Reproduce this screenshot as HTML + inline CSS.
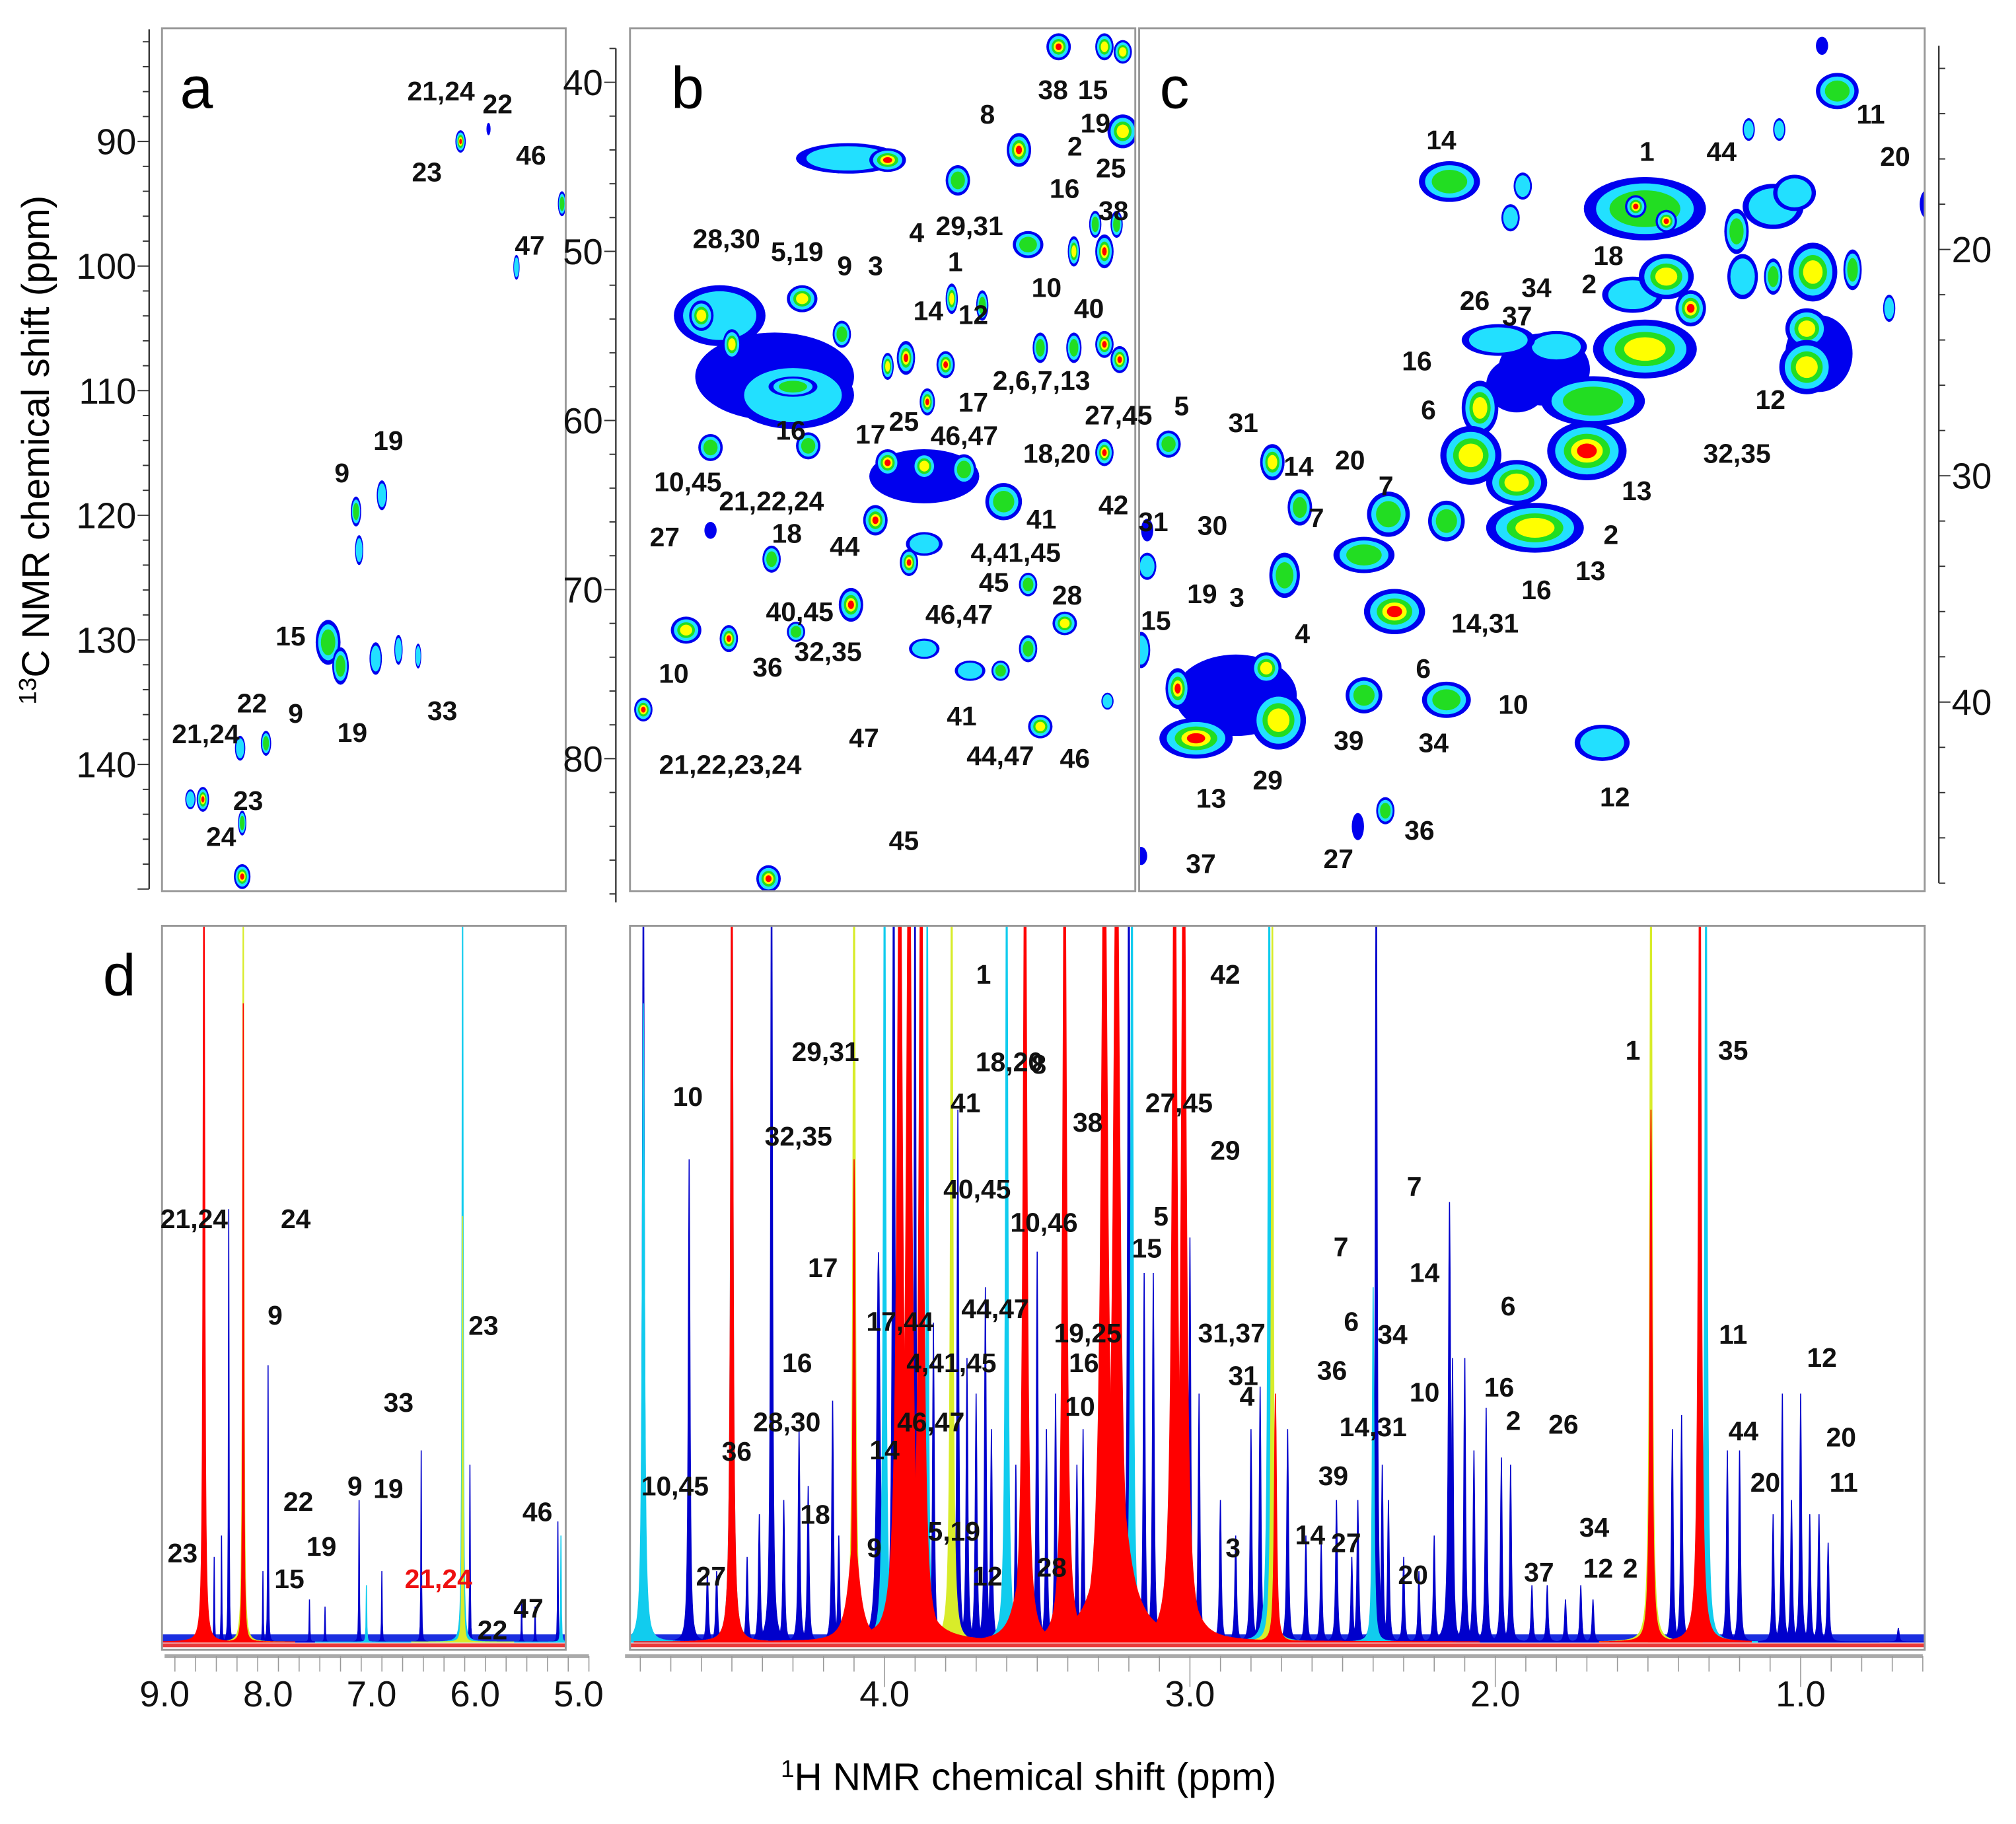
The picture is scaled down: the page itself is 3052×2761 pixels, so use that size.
<!DOCTYPE html>
<html><head><meta charset="utf-8"><title>NMR spectra</title>
<style>
html,body{margin:0;padding:0;background:#fff;}
svg{display:block;}
text{font-family:"Liberation Sans",sans-serif;}
.lb{font-family:"Liberation Sans Narrow","Liberation Sans",sans-serif;font-weight:bold;font-size:21px;fill:#111;}
.tk{font-size:28px;fill:#111;}
</style></head>
<body>
<svg id="fig" xmlns="http://www.w3.org/2000/svg" width="3052" height="2761" viewBox="0 0 1568 1418.5" preserveAspectRatio="none">
<defs>
<clipPath id="cpA"><rect x="126" y="22" width="314" height="671"/></clipPath>
<clipPath id="cpB"><rect x="490" y="22" width="393" height="671"/></clipPath>
<clipPath id="cpC"><rect x="886" y="22" width="611" height="671"/></clipPath>
<clipPath id="cpDL"><rect x="126" y="720" width="314" height="563"/></clipPath>
<clipPath id="cpDR"><rect x="490" y="720" width="1007" height="563"/></clipPath>
</defs>
<g id="layer"></g>
<text x="38" y="350" transform="rotate(-90 38 350)" text-anchor="middle" font-size="30"><tspan font-size="19" dy="-10">13</tspan><tspan dy="10">C NMR chemical shift (ppm)</tspan></text>
<text x="800" y="1392" text-anchor="middle" font-size="30"><tspan font-size="19" dy="-10">1</tspan><tspan dy="10">H NMR chemical shift (ppm)</tspan></text>
<text x="140" y="84" font-size="46">a</text>
<text x="522" y="84" font-size="46">b</text>
<text x="902" y="84" font-size="46">c</text>
<text x="80" y="774" font-size="46">d</text>
</svg>
<script>
// ---------- DATA ----------
// 2D spots: [1H ppm, 13C ppm, 1H half-width ppm, 13C half-width ppm, intensity level 1-5]
const spotsA = [
[6.14,90,.05,.9,5],[5.87,89,.02,.5,1],[5.16,95,.04,1.0,3],[5.60,100.1,.03,1.0,2],
[7.15,119.7,.05,1.2,3],[6.90,118.4,.05,1.2,2],[7.12,122.8,.04,1.2,2],
[7.42,130.2,.12,1.8,3],[7.30,132.1,.08,1.5,3],[6.96,131.5,.06,1.3,2],[6.74,130.8,.04,1.2,2],[6.55,131.3,.03,1.0,2],
[8.27,138.7,.05,1.0,2],[8.02,138.3,.05,1.0,3],[8.63,142.8,.06,1.0,5],[8.75,142.8,.05,.8,2],
[8.25,144.7,.04,1.0,3],[8.25,149,.08,1.0,5]
];
const spotsB = [
[4.36,57.4,.26,2.6,1],[4.54,53.8,.15,1.8,2],[4.30,58.5,.2,2.0,2],[3.87,63.3,.18,1.6,1],[4.12,44.5,.17,.9,2],
[3.43,37.9,.04,.8,5],[3.28,37.9,.03,.8,4],[3.22,38.2,.03,.7,4],[3.56,44.0,.04,1.0,5],[3.22,42.9,.05,1.0,4],
[3.99,44.6,.06,.7,5],[3.76,45.8,.04,.9,3],[3.31,48.4,.02,.8,3],[3.24,48.4,.02,.8,3],[3.28,50.0,.03,1.0,5],
[3.38,50.0,.02,.9,4],[3.53,49.6,.05,.8,3],[3.78,52.8,.02,.9,4],[3.68,53.2,.02,.9,3],[3.49,55.7,.025,.9,3],
[3.38,55.7,.025,.9,3],[3.28,55.5,.03,.8,5],[3.23,56.4,.03,.8,5],[3.93,56.3,.03,1.0,5],[3.80,56.7,.03,.8,5],
[3.99,56.8,.02,.8,4],[3.86,58.9,.025,.8,5],[4.60,53.8,.04,.9,4],[4.50,55.5,.03,.9,4],[4.27,52.8,.05,.8,4],
[4.30,58,.08,.6,3],[4.14,54.9,.03,.8,3],[3.28,61.9,.03,.8,5],[4.25,61.5,.04,.8,3],[4.57,61.6,.04,.8,3],
[3.99,62.5,.04,.8,5],[3.87,62.7,.04,.8,4],[3.74,62.9,.04,.9,3],[4.03,65.9,.04,.9,5],[3.61,64.8,.06,1.1,3],
[3.87,67.3,.06,.7,2],[3.92,68.4,.03,.8,5],[4.37,68.2,.03,.8,3],[4.57,66.5,.02,.5,1],[4.11,70.9,.04,1.0,5],
[4.29,72.5,.03,.6,3],[4.65,72.4,.05,.8,4],[4.51,72.9,.03,.8,5],[4.79,77.1,.03,.7,5],[4.38,87.1,.04,.8,5],
[3.53,69.7,.03,.7,3],[3.41,72.0,.04,.7,4],[3.53,73.5,.03,.8,3],[3.87,73.5,.05,.6,2],[3.72,74.8,.05,.6,2],
[3.62,74.8,.03,.6,3],[3.49,78.1,.04,.7,4],[3.27,76.6,.02,.5,2]
];
const spotsC = [
[1.51,18.2,.2,1.4,3],[1.54,18.1,.035,.5,5],[1.44,18.75,.035,.5,5],[1.21,19.2,.04,1.0,3],[1.09,18.1,.1,1.0,2],
[2.15,17.0,.1,.9,3],[1.91,17.2,.03,.6,2],[1.95,18.6,.03,.6,2],[1.55,22.0,.1,.8,2],[1.44,21.2,.09,1.0,4],
[1.36,22.6,.05,.8,5],[0.96,21.0,.08,1.3,4],[0.83,20.9,.03,.9,3],[1.09,21.2,.03,.8,3],[1.19,21.2,.05,1.0,2],
[1.02,17.5,.07,.8,2],[0.88,13.0,.07,.8,3],[0.93,11.0,.02,.4,1],[1.17,14.7,.02,.5,2],[1.07,14.7,.02,.5,2],
[0.59,18,.02,.6,1],[0.94,24.6,.11,1.7,1],[0.98,23.5,.07,.9,4],[0.98,25.2,.09,1.2,4],[0.71,22.6,.02,.6,2],
[1.84,25.3,.15,1.6,1],[1.93,26,.1,1.2,1],[1.51,24.4,.17,1.3,4],[1.68,26.7,.17,1.1,3],[1.80,24.3,.1,.7,2],
[1.99,24.0,.12,.7,2],[1.70,28.9,.13,1.3,5],[2.05,27.0,.06,1.2,4],[2.08,29.1,.1,1.3,4],[1.93,30.3,.1,1.0,4],
[1.87,32.3,.16,1.1,4],[2.16,32.0,.06,.9,3],[2.35,31.7,.07,1.0,3],[2.43,33.5,.1,.8,3],[2.33,36.0,.1,1.0,5],
[2.16,39.9,.08,.8,3],[2.43,39.7,.06,.8,3],[1.65,41.8,.09,.8,2],[2.36,44.8,.03,.6,3],[2.45,45.5,.02,.6,1],
[3.07,28.6,.04,.6,3],[2.73,29.4,.04,.8,4],[2.64,31.4,.04,.8,3],[2.69,34.4,.05,1.0,3],[3.14,32.4,.02,.5,1],
[3.14,34.0,.03,.6,2],[2.85,39.7,.2,1.8,1],[3.04,39.4,.04,.9,5],[2.98,41.6,.12,.9,5],[2.75,38.5,.05,.7,4],
[2.71,40.8,.09,1.3,4],[3.16,46.8,.02,.4,1],[3.16,37.7,.03,.8,2]
];
// 1D peaks: [1H ppm, relative height, colour index (0 blue,1 cyan,2 yellow,3 red), half-width ppm]
const peaksLeft = [
[8.62,1.2,3,.008],[8.62,1.2,0,.003],[8.24,1.2,2,.006],[8.24,.9,3,.005],[8.38,.61,0,.003],[8.45,.15,0,.003],
[8.52,.12,0,.003],[8.0,.39,0,.003],[8.05,.1,0,.003],[7.6,.06,0,.003],[7.45,.05,0,.003],[7.12,.2,0,.003],
[7.05,.08,1,.003],[6.9,.1,0,.003],[6.52,.27,0,.003],[6.12,1.2,1,.005],[6.12,.6,2,.004],[6.05,.25,0,.003],
[5.55,.06,0,.003],[5.42,.05,0,.003],[5.2,.17,0,.003],[5.17,.15,1,.003]
];
const peaksRight = [
[4.79,1.2,0,.003],[4.79,.9,1,.004],[4.64,.68,0,.003],[4.58,.1,0,.003],[4.55,.1,0,.003],
[4.50,1.2,1,.004],[4.50,1.2,3,.004],[4.45,.12,0,.003],[4.41,.18,0,.003],[4.37,1.2,0,.003],[4.33,.2,0,.003],
[4.28,.3,0,.003],[4.25,.22,0,.003],[4.17,.34,0,.003],[4.15,.15,0,.003],[4.10,1.2,2,.004],[4.10,.68,3,.004],
[4.02,.55,0,.006],[4.0,1.2,1,.004],[3.97,1.2,0,.004],[3.95,1.2,3,.01],[3.92,1.2,3,.01],[3.90,1.2,0,.003],
[3.88,1.2,3,.008],[3.86,1.2,1,.003],[3.84,.45,0,.003],[3.78,1.2,2,.004],[3.76,.75,0,.003],[3.73,.4,0,.003],
[3.70,.35,0,.003],[3.67,.5,0,.003],[3.65,.3,0,.003],[3.60,1.2,1,.004],[3.57,.25,0,.003],[3.54,1.2,3,.007],
[3.50,.55,0,.003],[3.47,.3,0,.003],[3.44,.35,0,.003],[3.41,1.2,3,.007],[3.37,.25,0,.003],[3.35,.3,0,.003],
[3.28,1.2,3,.012],[3.24,1.2,3,.012],[3.20,1.2,0,.004],[3.19,1.2,1,.004],[3.15,.52,0,.003],[3.12,.52,0,.003],
[3.05,1.2,3,.009],[3.02,1.2,3,.009],[3.00,.57,0,.003],[2.97,.35,0,.003],[2.90,.2,0,.003],[2.85,.15,0,.003],
[2.80,.3,0,.003],[2.77,.36,0,.003],[2.74,1.2,1,.004],[2.73,1.2,2,.003],[2.72,.35,3,.004],[2.68,.3,0,.003],
[2.62,.15,0,.003],[2.57,.14,0,.003],[2.52,.2,0,.003],[2.47,.12,0,.003],[2.45,.2,0,.003],[2.39,1.2,0,.003],
[2.40,.5,1,.003],[2.37,.25,0,.003],[2.35,.2,0,.003],[2.30,.12,0,.003],[2.25,.1,0,.003],[2.20,.15,0,.003],
[2.15,.62,0,.004],[2.14,.4,0,.003],[2.10,.40,0,.003],[2.07,.27,0,.003],[2.03,.33,0,.003],[1.98,.26,0,.003],
[1.95,.25,0,.003],[1.88,.08,0,.003],[1.83,.08,0,.003],[1.77,.06,0,.003],[1.72,.08,0,.003],[1.68,.06,0,.003],
[1.49,1.2,2,.004],[1.49,.75,3,.004],[1.42,.3,0,.003],[1.39,.32,0,.003],[1.33,1.2,3,.005],[1.31,1.2,1,.004],
[1.24,.27,0,.003],[1.20,.27,0,.003],[1.09,.18,0,.003],[1.06,.35,0,.003],[1.03,.2,0,.003],[1.00,.35,0,.003],
[0.97,.18,0,.003],[0.94,.18,0,.003],[0.91,.14,0,.003],[0.68,.02,0,.003],
[3.92,.3,3,.03],[3.55,.1,3,.03],[3.25,.35,3,.04],[3.03,.2,3,.03],[4.1,.15,3,.02]
];
const ticksA = [90,100,110,120,130,140];
const ticksB = [40,50,60,70,80];
const ticksC = [20,30,40];
const ticksHLeft = [9,8,7,6,5];
const ticksHRight = [4,3,2,1];

// ---------- SCALES ----------
const XL = h => 128 + (9 - h) * 80.5;
const XR = h => 688 + (4 - h) * 237.5;
const YA = c => 110 + (c - 90) * 9.69;
const YB = c => 64 + (c - 40) * 13.15;
const YC = c => 194 + (c - 20) * 17.6;
const BASE = 1277, HBOX = 552;

const NS = "http://www.w3.org/2000/svg";
const layer = document.getElementById('layer');
function mk(tag, attrs, parent) {
  const e = document.createElementNS(NS, tag);
  for (const k in attrs) e.setAttribute(k, attrs[k]);
  (parent || layer).appendChild(e);
  return e;
}
const SPOTC = ['#0000ee', '#22e0ff', '#22dd22', '#ffff00', '#ff0000'];
const PKC = ['#0000cc', '#11ccee', '#d8ec2a', '#ff0000'];

function drawSpots(spots, X, Y, clip, name) {
  const g = mk('g', {'clip-path': 'url(#' + clip + ')'});
  
  
  spots.forEach(s => {
    const cx = X(s[0]), cy = Y(s[1]);
    const rx = Math.abs(X(s[0] + s[2]) - cx), ry = Math.abs(Y(s[1] + s[3]) - cy);
    const f = [1, 0.8, 0.58, 0.4, 0.25];
    for (let i = 0; i < s[4]; i++) {
      const e = mk('ellipse', {cx: cx, cy: cy, rx: Math.max(1, rx * f[i]), ry: Math.max(1, ry * f[i]), fill: SPOTC[i]}, g);
      
      
    }
  });
}
drawSpots(spotsA, XL, YA, 'cpA', 'panel-a');
drawSpots(spotsB, XR, YB, 'cpB', 'panel-b');
drawSpots(spotsC, XR, YC, 'cpC', 'panel-c');

function drawPeaks(peaks, X, clip, name, x0, x1) {
  const g = mk('g', {'clip-path': 'url(#' + clip + ')'});
  
  
  const nb = mk('rect', {x: x0, y: BASE - 6, width: x1 - x0, height: 6, fill: '#1a2ee0'}, g);
  
  
  [0, 1, 2, 3].forEach(ci => {
    peaks.filter(p => p[2] === ci).forEach(p => {
      const cx = X(p[0]);
      const wpx = Math.abs(X(p[0] + p[3]) - cx);
      const H = p[1] * HBOX;
      let d = '', span = Math.max(40, wpx * 30);
      for (let dx = -span; dx <= span; dx += Math.max(0.4, wpx / 6)) {
        const y = BASE - H * wpx * wpx / (dx * dx + wpx * wpx);
        d += (d ? 'L' : 'M') + (cx + dx).toFixed(1) + ' ' + y.toFixed(1);
      }
      d += 'L' + (cx + span).toFixed(1) + ' ' + BASE + 'L' + (cx - span).toFixed(1) + ' ' + BASE + 'Z';
      const pe = mk('path', {d: d, fill: PKC[ci], stroke: PKC[ci], 'stroke-width': 0.8}, g);
      
      
    });
  });
  const rl = mk('rect', {x: x0, y: BASE + 1, width: x1 - x0, height: 3, fill: '#e83a3a'}, g);
  
  
}
drawPeaks(peaksLeft, XL, 'cpDL', 'panel-d-left', 126, 440);
drawPeaks(peaksRight, XR, 'cpDR', 'panel-d-right', 490, 1497);

// panel frames
[[126,22,314,671,'panel-a-frame'],[490,22,393,671,'panel-b-frame'],[886,22,611,671,'panel-c-frame'],
 [126,720,314,563,'panel-d-left-frame'],[490,720,1007,563,'panel-d-right-frame']].forEach(b => {
  const r = mk('rect', {x: b[0], y: b[1], width: b[2], height: b[3], fill: 'none', stroke: '#999', 'stroke-width': 1.5});
  
  
});

// vertical axes
function vAxis(Y, cmin, cmax, ax, dir, majors, name) {
  const g = mk('g', {});
  
  
  mk('line', {x1: ax, y1: Y(cmin), x2: ax, y2: Y(cmax), stroke: '#333', 'stroke-width': 1.2}, g);
  for (let c = Math.ceil(cmin / 2) * 2; c <= cmax; c += 2) {
    const maj = c % 10 === 0;
    mk('line', {x1: ax, y1: Y(c), x2: ax + dir * (maj ? 9 : 5), y2: Y(c), stroke: '#333', 'stroke-width': 1}, g);
  }
  majors.forEach(c => {
    const t = mk('text', {x: ax + dir * 10, y: Y(c) + 10, 'text-anchor': dir < 0 ? 'end' : 'start', class: 'tk'}, g);
    t.textContent = c;
    
    
  });
}
vAxis(YA, 81, 150, 116, -1, ticksA, 'panel-a-y-axis');
vAxis(YB, 38, 88.5, 479, -1, ticksB, 'panel-b-y-axis');
vAxis(YC, 11, 48, 1508, 1, ticksC, 'panel-c-y-axis');

// horizontal axes
function hAxis(X, hmax, hmin, step, majors, name) {
  const g = mk('g', {});
  
  
  const ay = 1288;
  mk('line', {x1: X(hmax), y1: ay, x2: X(hmin), y2: ay, stroke: '#aaa', 'stroke-width': 3}, g);
  for (let h = hmin; h <= hmax + 1e-6; h += step) {
    const maj = Math.abs(h - Math.round(h)) < 1e-6;
    mk('line', {x1: X(h), y1: ay, x2: X(h), y2: ay + (maj ? 24 : 12), stroke: '#999', 'stroke-width': 0.8}, g);
  }
  majors.forEach(h => {
    const t = mk('text', {x: X(h), y: 1327, 'text-anchor': 'middle', class: 'tk'}, g);
    t.textContent = h.toFixed(1);
    
    
  });
}
hAxis(XL, 9.0, 4.9, 0.2, ticksHLeft, 'x-axis-left');
hAxis(XR, 4.85, 0.6, 0.1, ticksHRight, 'x-axis-right');

// annotations: [text, x, y]
const labels = [
["21,24",343,78],["22",387,88],["23",332,141],["46",413,128],["47",412,198],["19",302,350],["9",266,375],["15",226,502],["19",274,577],["33",344,560],["22",196,554],["9",230,562],["21,24",160,578],["23",193,630],["24",172,658],
["38",819,77],["15",850,77],["19",852,103],["2",836,121],["25",864,138],["8",768,96],["16",828,154],["38",866,171],["28,30",565,193],["5,19",620,203],["9",657,214],["3",681,214],["4",713,188],["29,31",754,183],["1",743,211],["14",722,249],["12",757,252],["10",814,231],["40",847,247],["2,6,7,13",810,303],["17",757,320],["27,45",870,330],["16",615,342],["17",677,345],["25",703,335],["46,47",750,346],["18,20",822,360],["10,45",535,382],["21,22,24",600,397],["41",810,411],["42",866,400],["27",517,425],["18",612,422],["44",657,432],["4,41,45",790,437],["45",773,460],["28",830,470],["40,45",622,483],["46,47",746,485],["10",524,531],["36",597,526],["32,35",644,514],["41",748,564],["44,47",778,595],["46",836,597],["47",672,581],["21,22,23,24",568,602],["45",703,661],
["14",1121,116],["1",1281,125],["44",1339,125],["11",1455,96],["20",1474,129],["18",1251,206],["2",1236,228],["34",1195,231],["37",1180,253],["26",1147,241],["16",1102,288],["12",1377,318],["32,35",1351,360],["6",1111,326],["13",1273,389],["5",919,323],["31",967,336],["14",1010,370],["20",1050,365],["7",1078,385],["2",1253,423],["13",1237,451],["16",1195,466],["14,31",1155,492],["31",897,413],["30",943,416],["7",1024,410],["19",935,469],["3",962,472],["15",899,490],["4",1013,500],["6",1107,527],["10",1177,555],["39",1049,583],["34",1115,585],["29",986,614],["13",942,628],["12",1256,627],["36",1104,653],["27",1041,675],["37",934,679],
["21,24",151,955],["24",230,955],["9",214,1030],["23",376,1038],["33",310,1098],["22",232,1175],["9",276,1163],["19",302,1165],["19",250,1210],["15",225,1235],["23",142,1215],["47",411,1258],["22",383,1275],["46",418,1183],
["1",765,765],["42",953,765],["18,20",785,833],["29,31",642,825],["8",808,835],["10",535,860],["35",1348,824],["1",1270,824],["41",751,865],["38",846,880],["27,45",917,865],["32,35",621,891],["29",953,902],["7",1100,930],["40,45",760,932],["10,46",812,958],["5",903,953],["15",892,978],["17",640,993],["7",1043,977],["14",1108,997],["17,44",700,1035],["44,47",774,1025],["19,25",846,1044],["31,37",958,1044],["6",1173,1023],["16",620,1067],["4,41,45",740,1067],["16",843,1067],["6",1051,1035],["34",1083,1045],["36",1036,1073],["11",1348,1045],["12",1417,1063],["31",967,1077],["10",840,1101],["16",1166,1086],["10",1108,1090],["4",970,1093],["28,30",612,1113],["46,47",724,1113],["14,31",1068,1117],["2",1177,1112],["26",1216,1115],["44",1356,1120],["36",573,1136],["20",1432,1125],["14",688,1135],["39",1037,1155],["10,45",525,1163],["20",1373,1160],["11",1434,1160],["5,19",742,1198],["18",634,1185],["9",680,1211],["3",959,1211],["14",1019,1201],["27",1047,1207],["34",1240,1195],["20",1099,1232],["37",1197,1230],["12",1243,1227],["2",1268,1227],["27",553,1233],["12",768,1233],["28",818,1226]
];
const lg = mk('g', {});


labels.forEach(l => {
  const t = mk('text', {x: l[1], y: l[2], 'text-anchor': 'middle', class: 'lb'}, lg);
  t.textContent = l[0];
  
  
});
const red = mk('text', {x: 341, y: 1235, 'text-anchor': 'middle', class: 'lb', style: 'fill:#ee1111'}, lg);
red.textContent = '21,24';


</script>
</body></html>
